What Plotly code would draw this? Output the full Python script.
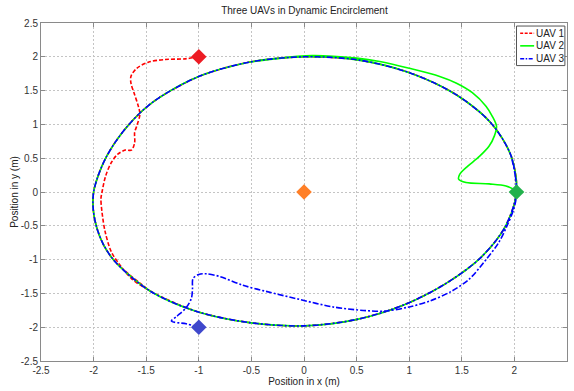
import plotly.graph_objects as go

# Converged encirclement orbit, counter-clockwise from the +x axis
orbit_x = [2.020, 1.970, 1.775, 1.443, 1.015, 0.523, 0.000, -0.515,
           -0.990, -1.386, -1.547, -1.680, -1.792, -1.884, -1.953, -2.000,
           -2.003, -1.970, -1.903, -1.793, -1.464,
           -1.020, -0.518, 0.000, 0.505, 0.960, 1.351, 1.680, 1.913]
orbit_y = [0.000, 0.528, 1.025, 1.443, 1.758, 1.951, 2.000, 1.922,
           1.715, 1.386, 1.187, 0.970, 0.742, 0.505, 0.257, 0.000,
           -0.264, -0.528, -0.788, -1.035, -1.464,
           -1.767, -1.932, -1.980, -1.884, -1.663, -1.351, -0.970, -0.512]

# Transient legs from each start position until joining the orbit
uav1_x = [-1.00, -1.13, -1.32, -1.48, -1.59, -1.645, -1.645, -1.61, -1.575, -1.56,
          -1.59, -1.61, -1.61, -1.64, -1.70, -1.77, -1.83, -1.885, -1.92, -1.93,
          -1.92, -1.89, -1.83, -1.75, -1.64]
uav1_y = [2.00, 1.97, 1.96, 1.92, 1.83, 1.71, 1.61, 1.44, 1.27, 1.15,
          0.975, 0.88, 0.73, 0.62, 0.62, 0.56, 0.44, 0.24, 0.00, -0.10,
          -0.30, -0.59, -0.89, -1.08, -1.28]
uav1_join = 20

uav2_x = [2.03, 1.92, 1.76, 1.54, 1.47, 1.48, 1.54, 1.67, 1.76, 1.81,
          1.83, 1.79, 1.73, 1.60, 1.45, 1.29, 1.00, 0.72, 0.50, 0.08, -0.30]
uav2_y = [0.01, 0.09, 0.12, 0.14, 0.19, 0.26, 0.36, 0.53, 0.68, 0.83,
          0.97, 1.12, 1.27, 1.47, 1.61, 1.71, 1.83, 1.93, 1.98, 2.02, 1.97]
uav2_join = 7

uav3_x = [-1.00, -1.12, -1.26, -1.21, -1.12, -1.07, -1.06, -1.055, -1.00, -0.93,
          -0.80, -0.58, -0.36, -0.04, 0.275, 0.59, 0.78, 1.00, 1.20, 1.40,
          1.57, 1.73, 1.85, 1.93, 2.00, 2.02]
uav3_y = [-2.00, -1.95, -1.91, -1.84, -1.71, -1.57, -1.43, -1.28, -1.22, -1.21,
          -1.25, -1.38, -1.47, -1.59, -1.70, -1.755, -1.76, -1.70, -1.61, -1.47,
          -1.29, -1.00, -0.75, -0.50, -0.22, 0.00]
uav3_join = 1

# Start positions of the UAVs and the encircled target
start_x = [-1.0, 2.02, -1.0]
start_y = [2.0, 0.0, -2.0]
target_x = [0.0]
target_y = [0.0]

tick_vals = [-2.5, -2.0, -1.5, -1.0, -0.5, 0.0, 0.5, 1.0, 1.5, 2.0, 2.5]
tick_text = ["-2.5", "-2", "-1.5", "-1", "-0.5", "0", "0.5", "1", "1.5", "2", "2.5"]

names = ["UAV 1", "UAV 2", "UAV 3"]
line_colors = ["#ff0000", "#00ff00", "#0000ff"]
line_dashes = ["4px,2px", "solid", "6px,2px,2px,2px"]
legend_dashes = ["3px,1.5px", "solid", "4px,1.5px,1.5px,1.5px"]
marker_colors = ["#ed1c24", "#22b14c", "#3f48cc"]
target_color = "#ff7f27"

FONT = "Liberation Sans, Arial, sans-serif"


def full_path(tx, ty, join):
    n = len(orbit_x)
    idx = [(join + k) % n for k in range(n + 1)]
    return tx + [orbit_x[i] for i in idx], ty + [orbit_y[i] for i in idx]


paths = [full_path(uav1_x, uav1_y, uav1_join),
         full_path(uav2_x, uav2_y, uav2_join),
         full_path(uav3_x, uav3_y, uav3_join)]

fig = go.Figure()
for (px, py), name, col, dash in zip(paths, names, line_colors, line_dashes):
    fig.add_trace(go.Scatter(
        x=px, y=py, mode="lines", name=name, showlegend=False,
        line=dict(color=col, width=1.6, dash=dash, shape="spline", smoothing=0.9),
    ))

fig.add_trace(go.Scatter(
    x=target_x, y=target_y, mode="markers", showlegend=False,
    marker=dict(symbol="diamond", size=12, color=target_color, line=dict(width=0)),
))
fig.add_trace(go.Scatter(
    x=start_x, y=start_y, mode="markers", showlegend=False,
    marker=dict(symbol="diamond", size=12, color=marker_colors, line=dict(width=0)),
))

# Compact boxed legend in the upper-right corner of the axes
box = dict(x0=0.904, x1=0.996, y0=0.874, y1=0.991)
entry_y = [0.9697, 0.9324, 0.8941]
fig.add_shape(type="rect", xref="x domain", yref="y domain", **box,
              line=dict(color="#555555", width=1), fillcolor="white", layer="above")
for name, col, dash, ey in zip(names, line_colors, legend_dashes, entry_y):
    fig.add_shape(type="line", xref="x domain", yref="y domain",
                  x0=0.9110, x1=0.9375, y0=ey, y1=ey, layer="above",
                  line=dict(color=col, width=1.6, dash=dash))
    fig.add_annotation(xref="x domain", yref="y domain", x=0.9390, y=ey,
                       text=name, showarrow=False, xanchor="left", yanchor="middle",
                       borderpad=0, font=dict(family=FONT, size=10, color="#222222"))

axis_common = dict(
    tickvals=tick_vals, ticktext=tick_text, range=[-2.5, 2.5],
    showgrid=True, gridcolor="#c4c4c4", griddash="2px,2px", gridwidth=1,
    zeroline=False, showline=True, linecolor="#8a8a8a", linewidth=1, mirror="ticks",
    ticks="inside", ticklen=4, tickcolor="#8a8a8a",
    tickfont=dict(family=FONT, size=10, color="#333333"),
)

fig.update_layout(
    width=574, height=391,
    margin=dict(l=41, r=6, t=23, b=28),
    paper_bgcolor="white", plot_bgcolor="white",
    title=dict(text="Three UAVs in Dynamic Encirclement", x=0.5304, xanchor="center",
               y=0.972, yanchor="middle",
               font=dict(family=FONT, size=10, color="#222222")),
    xaxis=dict(axis_common, title=dict(text="Position in x (m)", standoff=2,
               font=dict(family=FONT, size=10, color="#222222"))),
    yaxis=dict(axis_common, title=dict(text="Position in y (m)", standoff=0,
               font=dict(family=FONT, size=10, color="#222222"))),
    showlegend=False,
)

fig.write_html("out.html")
